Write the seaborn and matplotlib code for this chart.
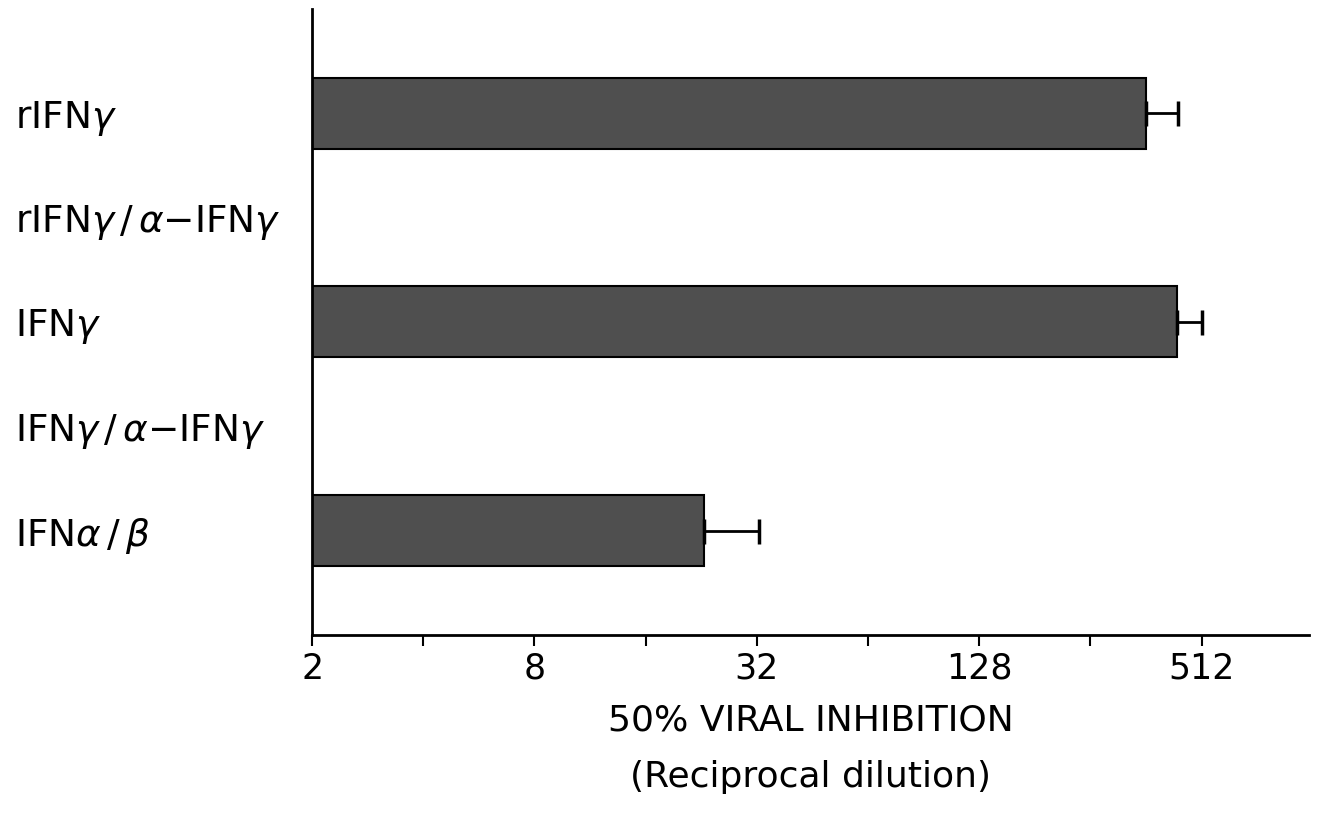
import numpy as np
import pandas as pd
import matplotlib
matplotlib.use("Agg")
import matplotlib.pyplot as plt
from matplotlib.ticker import FixedLocator, NullFormatter
import seaborn as sns

categories = [r"rIFN$\gamma$", r"rIFN$\gamma\,/\,\alpha$$-$IFN$\gamma$", r"IFN$\gamma$",
              r"IFN$\gamma\,/\,\alpha$$-$IFN$\gamma$", r"IFN$\alpha\,/\,\beta$"]
values = [362, np.nan, 438, np.nan, 23]
err_upper = [443, np.nan, 515, np.nan, 32.5]
major_ticks = [2, 8, 32, 128, 512]
minor_ticks = [4, 16, 64, 256]
tick_labels = ["2", "8", "32", "128", "512"]

sns.set_theme(style="white")
plt.rcParams["font.family"] = ["DejaVu Sans"]
plt.rcParams["mathtext.fontset"] = "dejavusans"

fig = plt.figure(figsize=(13.28, 8.15), dpi=100)
ax = fig.add_axes([0.235, 0.221, 0.751, 0.768])

df = pd.DataFrame({"cat": categories, "val": values})
sns.barplot(data=df, x="val", y="cat", order=categories, orient="h",
            color="#4f4f4f", edgecolor="black", linewidth=1.5, width=0.68,
            saturation=1, ax=ax)

ax.set_xscale("log", base=2)
ax.set_xlim(2, 2 ** 9.97)
ax.set_ylim(5.0, -1.0)

ypos = np.arange(len(categories))
for y, v, e in zip(ypos, values, err_upper):
    if np.isnan(v):
        continue
    ax.errorbar([v], [y], xerr=[[0], [e - v]], fmt="none", ecolor="black",
                elinewidth=2, capsize=9, capthick=2.5)

ax.xaxis.set_major_locator(FixedLocator(major_ticks))
ax.xaxis.set_minor_locator(FixedLocator(minor_ticks))
ax.set_xticklabels(tick_labels)
ax.xaxis.set_minor_formatter(NullFormatter())
ax.tick_params(axis="x", which="both", direction="out", length=8, width=1.5,
               bottom=True, labelsize=25, pad=4, colors="black")

ax.tick_params(axis="y", length=0, pad=214, labelsize=27, labelcolor="black")
for lab in ax.get_yticklabels():
    lab.set_horizontalalignment("left")

for s in ["top", "right"]:
    ax.spines[s].set_visible(False)
for s in ["left", "bottom"]:
    ax.spines[s].set_color("black")
    ax.spines[s].set_linewidth(2)

ax.set_ylabel("")
ax.set_xlabel("50% VIRAL INHIBITION\n(Reciprocal dilution)", fontsize=26,
              color="black", linespacing=1.82)
ax.xaxis.set_label_coords(0.5, -0.110, transform=ax.transAxes)
ax.xaxis.label.set_verticalalignment("top")

fig.savefig("out.png", dpi=100)
